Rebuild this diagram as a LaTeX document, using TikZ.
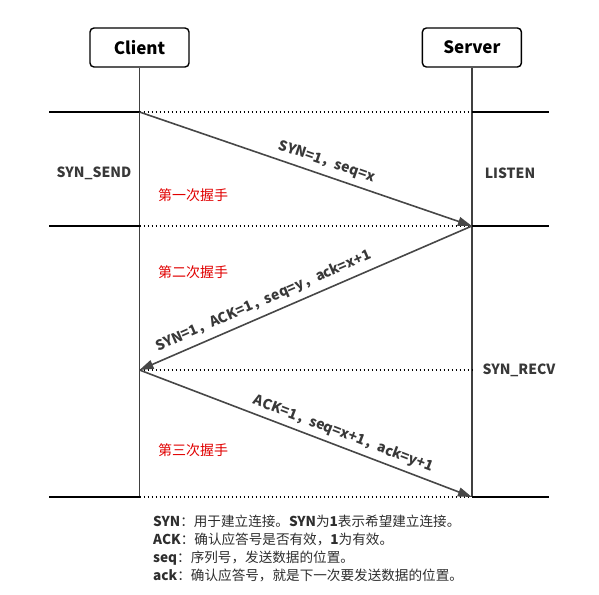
\documentclass[tikz,border=0pt]{standalone}
\usepackage{fontspec}
\setmainfont{Noto Sans CJK SC}
\usetikzlibrary{arrows.meta,positioning}

\begin{document}
\begin{tikzpicture}[
  x=1pt,y=-1pt,
  node distance=232pt,
  role/.style={rectangle,draw,line width=1.4pt,rounded corners=4pt,minimum height=39pt,minimum width=99pt,font=\fontsize{17}{19}\selectfont\bfseries},
  life/.style={draw=black!75,line width=1.4pt},
  phase/.style={line width=1.5pt},
  sync/.style={line width=1.5pt,dash pattern=on 1.6pt off 2.4pt},
  msg/.style={draw=black!72,line width=1.6pt,-{Triangle[length=14pt,width=9pt]}},
  lbl/.style={font=\fontsize{14}{16}\selectfont\bfseries,text=black!78,inner sep=3pt},
  note/.style={font=\fontsize{14}{16}\selectfont,text=red!88!black},
  state/.style={font=\fontsize{14}{16}\selectfont\bfseries,text=black!78}
]
\useasboundingbox (0,0) rectangle (599,594);
\node[role] (client) at (139.5,47.5) {Client};
\node[role,right=of client] (server) {Server};
% time marks on the two lifelines
\foreach \n/\y in {1/112,2/226,3/370,4/497}{
  \coordinate (c\n) at (client.south |- 0,\y);
  \coordinate (s\n) at (server.south |- 0,\y);
  \coordinate (l\n) at (49,\y);
  \coordinate (r\n) at (549,\y);
}
\draw[life] (client.south) -- (c4);
\draw[life] (server.south) -- (s4);
\foreach \n in {1,2,4}{
  \draw[phase] (l\n) -- (c\n);
  \draw[phase] (s\n) -- (r\n);
}
\foreach \n in {1,...,4}
  \draw[sync] (c\n) -- (s\n);
% the three messages
\draw[msg] (c1) -- node[lbl,sloped,above,pos=0.55,yshift=3pt] {SYN=1，seq=x} (s2);
\draw[msg] (s2) -- node[lbl,sloped,above,pos=0.61,yshift=3pt] {SYN=1，ACK=1，seq=y，ack=x+1} (c3);
\draw[msg] (c3) -- node[lbl,sloped,above,pos=0.6,yshift=2pt] {ACK=1，seq=x+1，ack=y+1} (s4);
% states
\node[state] (synsend) at (94,173) {SYN\_SEND};
\node[state] (listen) at (510,173) {LISTEN};
\node[state] (synrecv) at (519,370) {SYN\_RECV};
\node[note] (hs1) at (193,195) {第一次握手};
\node[note] (hs2) at (193,272) {第二次握手};
\node[note] (hs3) at (193,450) {第三次握手};
% legend
\node[anchor=west,align=left,inner sep=0pt,text=black!82,font=\fontsize{13.6}{18}\selectfont] (legend) at (153,548)
  {\textbf{SYN}：用于建立连接。\textbf{SYN}为\textbf{1}表示希望建立连接。\\
   \textbf{ACK}：确认应答号是否有效，\textbf{1}为有效。\\
   \textbf{seq}：序列号，发送数据的位置。\\
   \textbf{ack}：确认应答号，就是下一次要发送数据的位置。};
\end{tikzpicture}
\end{document}
